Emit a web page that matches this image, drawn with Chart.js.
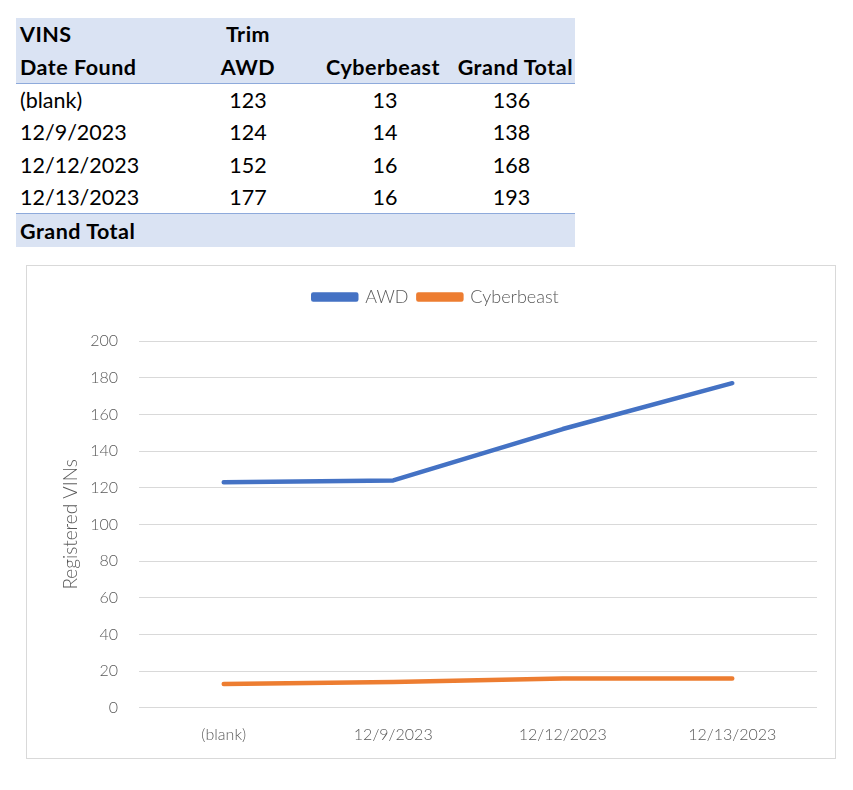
<!DOCTYPE html>
<html>
<head>
<meta charset="utf-8">
<script src="https://cdn.jsdelivr.net/npm/chart.js@4/dist/chart.umd.min.js"></script>
<style>
  body { margin: 0; background: #fff; font-family: Lato, "Liberation Sans", sans-serif; }
  #tbl { position: absolute; left: 16px; top: 18px; width: 559px; border-collapse: collapse; font-size: 21.5px; color: #000; table-layout: fixed; }
  #tbl td { height: 32.4px; padding: 0; white-space: nowrap; }
  #tbl .hd td { background: #dae3f3; font-weight: bold; letter-spacing: 0.5px; }
  #tbl .c1 { padding-left: 4px; }
  #tbl .c2 { text-align: center; }
  #tbl .c3 { text-align: center; padding-left: 46px; }
  #tbl .hd .c3 { text-align: right; padding-left: 0; padding-right: 8px; }
  #tbl .c4 { text-align: center; }
  #tbl .hd .c4 { text-align: right; padding-right: 2px; }
  #tbl .line td { border-bottom: 1.5px solid #8eaadb; }
  #tbl .tot td { border-top: 1.5px solid #8eaadb; }
  #box { position: absolute; left: 26px; top: 265px; width: 808px; height: 492px; border: 1px solid #d9d9d9; }
</style>
</head>
<body>
<table id="tbl"></table>
<div id="box"><canvas id="chart"></canvas></div>
<script>
var dates = ['(blank)', '12/9/2023', '12/12/2023', '12/13/2023'];
var awd = [123, 124, 152, 177];
var cyberbeast = [13, 14, 16, 16];
var grandTotal = [136, 138, 168, 193];
var yTicks = [0, 20, 40, 60, 80, 100, 120, 140, 160, 180, 200];

// pivot table above the chart
var html = '<colgroup><col style="width:204px"><col style="width:56px"><col style="width:172px"><col></colgroup>';
html += '<tr class="hd"><td class="c1">VINS</td><td class="c2">Trim</td><td class="c3"></td><td class="c4"></td></tr>';
html += '<tr class="hd line"><td class="c1">Date Found</td><td class="c2">AWD</td><td class="c3">Cyberbeast</td><td class="c4">Grand Total</td></tr>';
for (var i = 0; i < dates.length; i++) {
    html += '<tr><td class="c1">' + dates[i] + '</td><td class="c2">' + awd[i] + '</td><td class="c3">' +
        cyberbeast[i] + '</td><td class="c4">' + grandTotal[i] + '</td></tr>';
}
html += '<tr class="hd tot"><td class="c1">Grand Total</td><td class="c2"></td><td class="c3"></td><td class="c4"></td></tr>';
document.getElementById('tbl').innerHTML = html;

var tickFont = { family: 'Lato', size: 16, weight: 300 };

// extra room under the legend, like the Excel chart
var legendGap = {
    id: 'legendGap',
    beforeInit: function(chart) {
        var fit = chart.legend.fit;
        chart.legend.fit = function() {
            fit.bind(chart.legend)();
            this.height += 25;
        };
    }
};

new Chart(document.getElementById('chart'), {
    type: 'line',
    data: {
        labels: dates,
        datasets: [{
            label: 'AWD',
            data: awd,
            borderColor: '#4472c4',
            backgroundColor: '#4472c4',
            borderWidth: 4.5,
            borderCapStyle: 'round',
            borderJoinStyle: 'round',
            pointRadius: 0,
            tension: 0
        }, {
            label: 'Cyberbeast',
            data: cyberbeast,
            borderColor: '#ed7d31',
            backgroundColor: '#ed7d31',
            borderWidth: 4.5,
            borderCapStyle: 'round',
            borderJoinStyle: 'round',
            pointRadius: 0,
            tension: 0
        }]
    },
    options: {
        responsive: true,
        maintainAspectRatio: false,
        animation: false,
        layout: { padding: { top: 12, right: 18, bottom: 5, left: 28 } },
        plugins: {
            legend: {
                position: 'top',
                labels: {
                    boxWidth: 43,
                    boxHeight: 5,
                    color: '#595959',
                    font: { family: 'Lato', size: 18, weight: 300 },
                    padding: 10
                }
            },
            tooltip: { enabled: false }
        },
        scales: {
            x: {
                offset: true,
                grid: { display: false },
                border: { display: false },
                ticks: { color: '#595959', font: tickFont, padding: 9, maxRotation: 0 }
            },
            y: {
                min: 0,
                max: 200,
                afterBuildTicks: function(axis) {
                    axis.ticks = yTicks.map(function(v) { return { value: v }; });
                },
                afterFit: function(axis) {
                    axis.width = 84;
                },
                grid: { color: '#d9d9d9', lineWidth: 1, drawTicks: false },
                border: { display: false },
                ticks: { color: '#595959', font: tickFont, padding: 21 },
                title: {
                    display: true,
                    text: 'Registered VINs',
                    color: '#595959',
                    font: { family: 'Lato', size: 19, weight: 300 },
                    padding: { top: 4, bottom: 0 }
                }
            }
        }
    },
    plugins: [legendGap]
});
</script>
</body>
</html>
